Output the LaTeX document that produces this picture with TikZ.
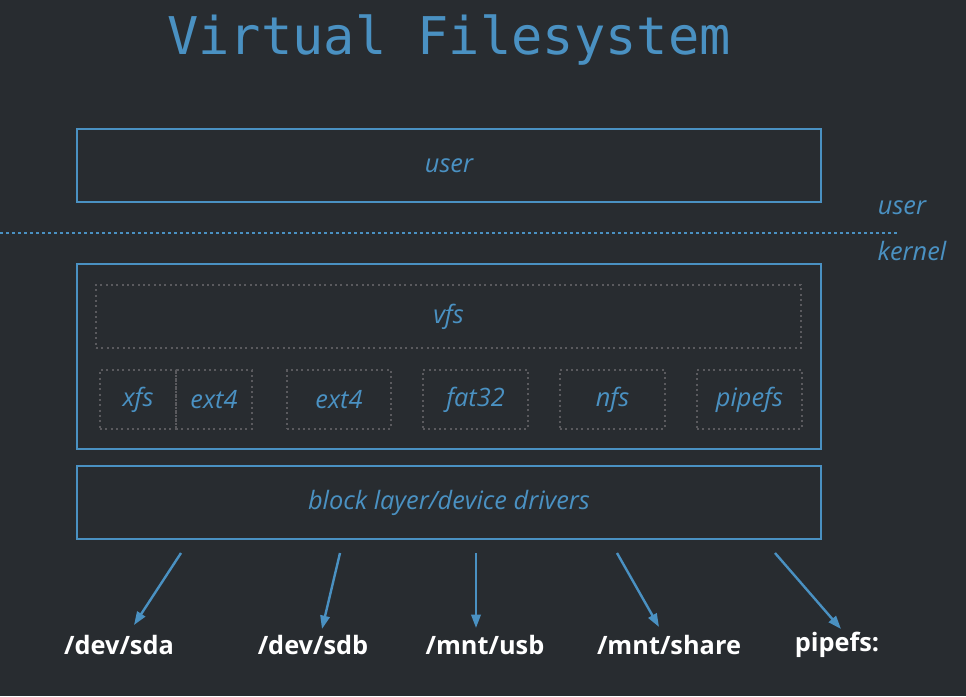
\documentclass[tikz,border=0pt]{standalone}
\usepackage{fontspec}
\usepackage{tikz}
\usetikzlibrary{arrows.meta}
\setmainfont{Open Sans}
\newfontfamily\titlefont{DejaVu Sans Mono}
\definecolor{bgdark}{RGB}{40, 44, 48}
\definecolor{vfsblue}{RGB}{74, 145, 194}
\definecolor{dotgray}{RGB}{90, 90, 94}

\begin{document}
\begin{tikzpicture}[
    x=0.75pt, y=-0.75pt,
    layer/.style={draw=vfsblue, line width=1.6pt, rectangle, minimum width=558pt, text=vfsblue, font=\fontsize{19}{21}\selectfont\itshape},
    fsbox/.style={draw=dotgray, line width=1.6pt, dash pattern=on 1.6pt off 2.4pt, rectangle, minimum height=44.25pt, text=vfsblue, font=\fontsize{19}{21}\selectfont\itshape},
    side/.style={text=vfsblue, font=\fontsize{19}{21}\selectfont\itshape},
    path/.style={text=white, font=\fontsize{19}{21}\selectfont\bfseries},
    arrow/.style={-{Triangle[length=10pt, width=7pt]}, line width=1.8pt, color=vfsblue}
]

\useasboundingbox[fill=bgdark] (0,0) rectangle (966,696);

% Title
\node[text=vfsblue, font=\fontsize{39}{41}\selectfont\titlefont] (title) at (449,40) {Virtual Filesystem};

% User space
\node[layer, minimum height=54.75pt] (user) at (449,165.5) {user};

% Boundary
\coordinate (lineL) at (0,233);
\coordinate (lineR) at (898,233);
\draw[vfsblue, line width=1.2pt, dash pattern=on 2.5pt off 2pt] (lineL) -- (lineR);
\node[side] (userlbl) at (902,208) {user};
\node[side] (kernellbl) at (912,251) {kernel};

% Kernel
\node[layer, minimum height=138.75pt] (kernel) at (449,356.5) {};
\node[fsbox, minimum width=528.75pt, minimum height=47.25pt] (vfs) at (448.5,316.5) {vfs};
\node[fsbox, minimum width=57pt] (xfs) at (138,399.5) {xfs};
\node[fsbox, minimum width=57pt] (ext4a) at (214,399.5) {ext4};
\node[fsbox, minimum width=78pt] (ext4b) at (339,399.5) {ext4};
\node[fsbox, minimum width=78.75pt] (fat) at (475.5,399.5) {fat32};
\node[fsbox, minimum width=78.75pt] (nfs) at (612.5,399.5) {nfs};
\node[fsbox, minimum width=78.75pt] (pipe) at (749.5,399.5) {pipefs};

% Block layer
\node[layer, minimum height=54.75pt] (block) at (449,502.5) {block layer/device drivers};

% Mount points
\node[path] (sda) at (119,645) {/dev/sda};
\node[path] (sdb) at (313,645) {/dev/sdb};
\node[path] (usb) at (485,645) {/mnt/usb};
\node[path] (share) at (669,645) {/mnt/share};
\node[path] (pipes) at (837,645) {pipefs:};

\coordinate (s1) at (181,553);
\coordinate (s2) at (340,553);
\coordinate (s3) at (476,553);
\coordinate (s4) at (617,553);
\coordinate (s5) at (775,553);
\coordinate (e1) at (134,625);
\coordinate (e2) at (322,629);
\coordinate (e3) at (476,628);
\coordinate (e4) at (659,627);
\coordinate (e5) at (841,629);

% Connections
\draw[arrow] (s1) -- (e1);
\draw[arrow] (s2) -- (e2);
\draw[arrow] (s3) -- (e3);
\draw[arrow] (s4) -- (e4);
\draw[arrow] (s5) -- (e5);

\end{tikzpicture}
\end{document}
